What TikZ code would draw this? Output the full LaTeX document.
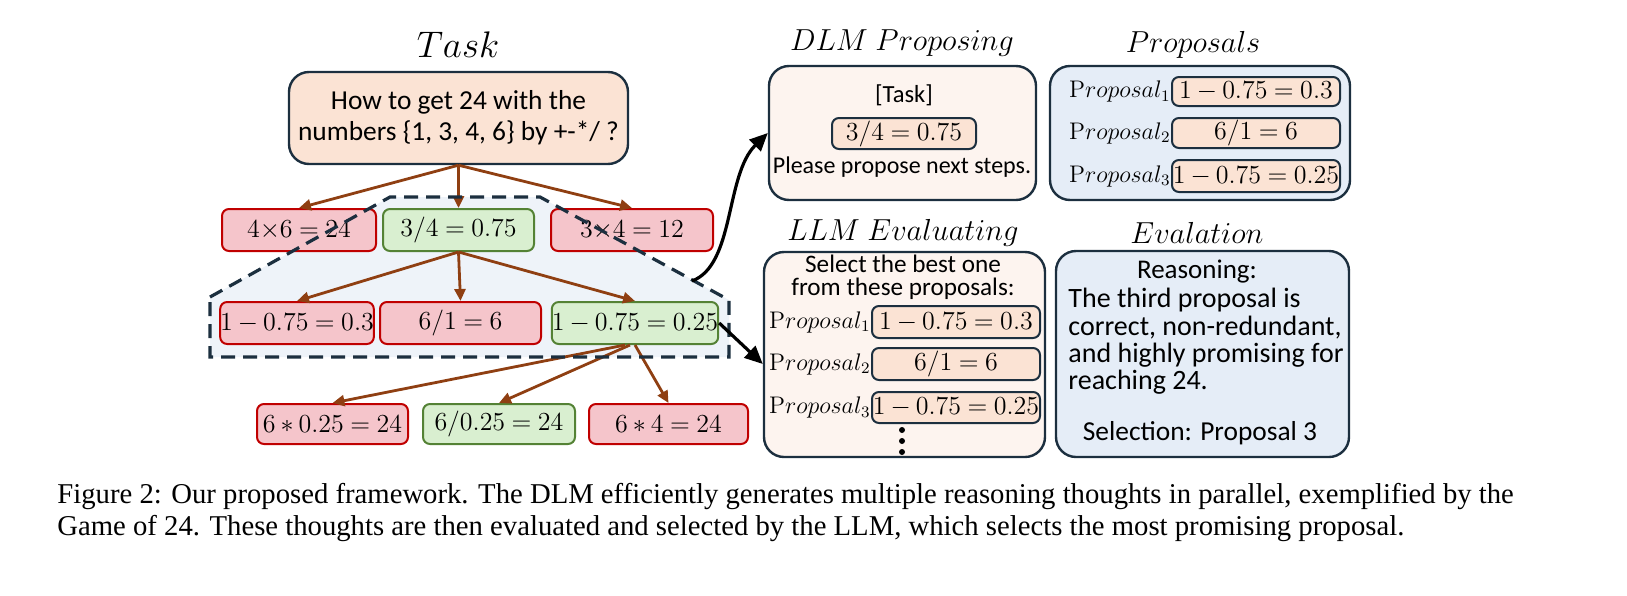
\RequirePackage{fix-cm}
\documentclass[tikz,border=0pt]{standalone}
\usepackage[no-math]{fontspec}
\setmainfont{Liberation Serif}
\newfontfamily\calib{Carlito}
\usetikzlibrary{arrows.meta,calc}
\definecolor{navy}{HTML}{1C2F3F}
\definecolor{peach}{HTML}{FBE3D4}
\definecolor{lpeach}{HTML}{FDF4EF}
\definecolor{lblue}{HTML}{E5EDF7}
\definecolor{redB}{HTML}{C00000}
\definecolor{redF}{HTML}{F5C5CB}
\definecolor{greenB}{HTML}{548235}
\definecolor{greenF}{HTML}{D9EFD0}
\definecolor{brownA}{HTML}{8F3F12}
\definecolor{polyF}{HTML}{EEF3F9}
\thickmuskip=4.5mu plus 2mu
\medmuskip=3.5mu plus 1mu
\begin{document}
\begin{tikzpicture}[x=0.5pt,y=-0.5pt,
  mth/.style={font=\fontsize{13}{16}\selectfont},
  box/.style={rounded corners=3.5pt, line width=1pt, inner sep=0pt, mth},
  redb/.style={box, draw=redB, fill=redF},
  greenb/.style={box, draw=greenB, fill=greenF},
  pbox/.style={box, draw=navy, fill=peach, minimum width=84pt},
  big/.style={rounded corners=10pt, line width=1.2pt, draw=navy, inner sep=0pt},
  ttl/.style={font=\fontsize{15.2}{18}\selectfont},
  txt/.style={font=\calib\fontsize{12.3}{15.5}\selectfont, inner sep=0pt},
  plab/.style={font=\fontsize{12}{14}\selectfont, inner sep=0pt, anchor=east},
  brw/.style={draw=brownA, line width=1.4pt, -{Triangle[length=6pt,width=5.5pt]}},
  blk/.style={draw=black, line width=1.6pt, -{Triangle[length=9pt,width=8pt]}},
  capf/.style={font=\fontsize{14.35}{16}\selectfont, inner sep=0pt, anchor=base west}
]
\useasboundingbox (0,0) rectangle (1627,595);

% dashed region fill
\fill[polyF] (210,297) -- (390,197) -- (540,197) -- (729,300) -- (729,357) -- (210,357) -- cycle;

% Task
\node[ttl, font=\fontsize{18.5}{20}\selectfont] (ttask) at (458,45) {$Task$};
\node[big, fill=peach, minimum width=169.5pt, minimum height=46pt, align=center,
      font=\calib\fontsize{13.7}{15.5}\selectfont] (task) at (458.5,118)
      {How to get 24 with the\\numbers \{1, 3, 4, 6\} by +-*/ ?};

% tree
\node[redb, minimum width=77pt, minimum height=21pt] (r1a) at (299,230) {$4{\times}6 = 24$};
\node[greenb, minimum width=75.5pt, minimum height=21pt] (r1b) at (458.5,230) {$3/4 = 0.75$};
\node[redb, minimum width=81pt, minimum height=21pt] (r1c) at (632,230) {$3{\times}4 = 12$};
\node[redb, minimum width=76pt, minimum height=21pt] (r2a) at (297,323) {$1-0.75 = 0.3$};
\node[redb, minimum width=80.5pt, minimum height=21pt] (r2b) at (460.5,323) {$6/1 = 6$};
\node[greenb, minimum width=83pt, minimum height=21pt] (r2c) at (635,323) {$1-0.75 = 0.25$};
\node[redb, minimum width=75.5pt, minimum height=20pt] (r3a) at (332.5,424) {$6\ast 0.25 = 24$};
\node[greenb, minimum width=76pt, minimum height=20pt] (r3b) at (499,424) {$6/0.25 = 24$};
\node[redb, minimum width=79.5pt, minimum height=20pt] (r3c) at (668.5,424) {$6\ast 4 = 24$};

\draw[brw] (task.south) -- (r1a.north);
\draw[brw] (task.south) -- (r1b.north);
\draw[brw] (task.south) -- (r1c.north);
\draw[brw] (r1b.south) -- (r2a.north);
\draw[brw] (r1b.south) -- (r2b.north);
\draw[brw] (r1b.south) -- (r2c.north);
\draw[brw] ($(r2c.south)+(-10,0)$) -- (r3a.north);
\draw[brw] ($(r2c.south)+(-5,0)$) -- (r3b.north);
\draw[brw] (r2c.south) -- (r3c.north);

% dashed border
\draw[navy, line width=1.6pt, dash pattern=on 7pt off 4pt]
  (210,297) -- (390,197) -- (540,197) -- (729,300) -- (729,357) -- (210,357) -- cycle;

% DLM proposing
\node[ttl] (tdlm) at (902,43) {$DLM\;Proposing$};
\node[big, fill=lpeach, minimum width=133.5pt, minimum height=67pt] (dlm) at (902.5,133) {};
\node[txt] (dtask) at (904,95) {[Task]};
\node[pbox, minimum width=72pt, minimum height=15.5pt] (d0) at (904,133.5) {$3/4 = 0.75$};
\node[txt, font=\calib\fontsize{12}{15}\selectfont] (dnext) at (902,167) {Please propose next steps.};

% Proposals
\node[ttl] (tprop) at (1193,45) {$Proposals$};
\node[big, fill=lblue, minimum width=150pt, minimum height=67pt] (prop) at (1200,133) {};
\node[pbox, minimum height=14.5pt] (p1) at (1256,91.5) {$1-0.75 = 0.3$};
\node[pbox, minimum height=15pt] (p2) at (1256,133) {$6/1 = 6$};
\node[pbox, minimum height=16pt] (p3) at (1256,176) {$1-0.75 = 0.25$};
\node[plab] (p1l) at (p1.west) {$\mathrm{P}roposal_1$};
\node[plab] (p2l) at (p2.west) {$\mathrm{P}roposal_2$};
\node[plab] (p3l) at (p3.west) {$\mathrm{P}roposal_3$};

% LLM evaluating
\node[ttl] (tllm) at (903,233) {$LLM\;Evaluating$};
\node[big, fill=lpeach, minimum width=140.5pt, minimum height=102.5pt] (llm) at (904.5,354.5) {};
\node[txt, align=center, font=\calib\fontsize{12.6}{11.5}\selectfont] (lhead) at (903,277)
  {Select the best one\\from these proposals:};
\node[pbox, minimum height=16pt] (e1) at (956,322) {$1-0.75 = 0.3$};
\node[pbox, minimum height=16pt] (e2) at (956,364) {$6/1 = 6$};
\node[pbox, minimum height=15.5pt] (e3) at (956,407.5) {$1-0.75 = 0.25$};
\node[plab] (e1l) at (e1.west) {$\mathrm{P}roposal_1$};
\node[plab] (e2l) at (e2.west) {$\mathrm{P}roposal_2$};
\node[plab] (e3l) at (e3.west) {$\mathrm{P}roposal_3$};
\fill (902,430) circle (1.5pt) (902,441) circle (1.5pt) (902,452) circle (1.5pt);

% Evaluation
\node[ttl] (teval) at (1197,233) {$Evalation$};
\node[big, fill=lblue, minimum width=146.5pt, minimum height=103pt] (eval) at (1202.5,354) {};
\node[txt, font=\calib\fontsize{13.5}{15}\selectfont] (reas) at (1197,272) {Reasoning:};
\node[txt, anchor=north west, align=left, font=\calib\fontsize{14}{13.65}\selectfont] (ebody) at (1068,288)
  {The third proposal is\\correct, non-redundant,\\and highly promising for\\reaching 24.};
\node[txt, font=\calib\fontsize{13.7}{15}\selectfont] (esel) at (1200,433) {Selection: Proposal 3};

% black arrows
\coordinate (bstart) at (692,281);
\draw[blk] (bstart) .. controls (735,265) and (725,175) .. (dlm.west);
\coordinate (bend) at (llm.west |- e2);
\draw[blk] (r2c.east) -- (bend);

% caption
\node[capf] (cap1) at (57,503) {Figure 2: Our proposed framework. The DLM efficiently generates multiple reasoning thoughts in parallel, exemplified by the};
\node[capf] (cap2) at (57,535) {Game of 24. These thoughts are then evaluated and selected by the LLM, which selects the most promising proposal.};
\end{tikzpicture}
\end{document}
